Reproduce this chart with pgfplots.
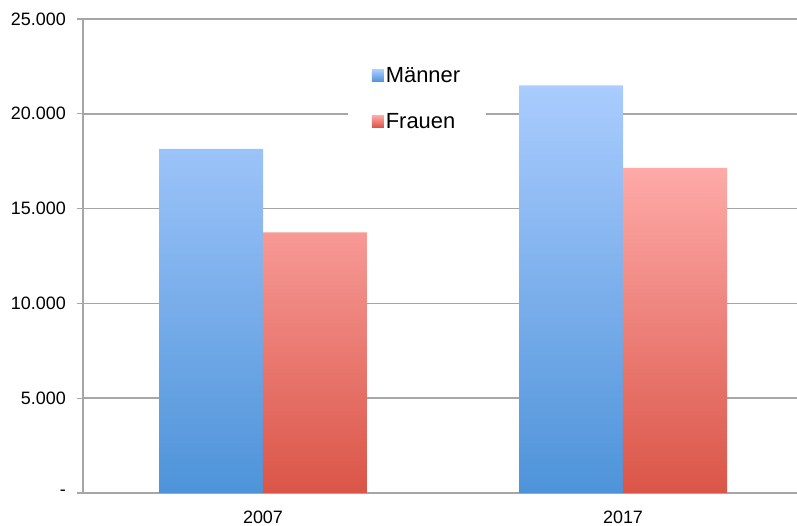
\documentclass[border=0pt]{standalone}
\usepackage{fontspec}
\setmainfont{Liberation Sans}
\usepackage{pgfplots}
\pgfplotsset{compat=1.18}
\definecolor{gridc}{HTML}{A6A6A6}
\definecolor{mtop}{HTML}{AACCFE}
\definecolor{mbot}{HTML}{4E93D9}
\definecolor{ftop}{HTML}{FEAAA8}
\definecolor{fbot}{HTML}{DA5548}
\begin{document}
\begin{tikzpicture}
\begin{axis}[
  scale only axis, width=714bp, height=474bp,
  at={(0,0)}, anchor=south west,
  xmin=-0.5, xmax=1.4833, ymin=0, ymax=25000,
  scaled y ticks=false,
  ybar, bar width=0.2889,
  axis x line*=bottom, axis y line*=left,
  axis line style={-, gridc, line width=1.5bp},
  ytick={0,5000,10000,15000,20000,25000},
  yticklabels={-,5.000,10.000,15.000,20.000,25.000},
  ymajorgrids, grid style={gridc, line width=1.5bp},
  tick align=outside, major tick length=6bp,
  tick style={gridc, line width=1.2bp},
  xtick={0,1}, xticklabels={2007,2017},
  x tick style={draw=none},
  extra x ticks={-0.5,0.5},
  extra x tick labels={},
  extra x tick style={grid=none, tick style={draw=gridc, line width=1.2bp}},
  tick label style={font=\fontsize{18}{22}\selectfont},
  yticklabel style={anchor=east, inner sep=0pt, xshift=-11bp},
  xticklabel style={anchor=north, inner sep=0pt, yshift=-12bp},
  legend style={draw=none, fill=white, at={(0.4678,0.8323)}, anchor=center,
    font=\fontsize{22}{26}\selectfont, row sep=25bp, inner xsep=24bp, inner ysep=6bp},
  legend cell align=left,
  legend image code/.code={\fill[#1] (0bp,-6bp) rectangle (12bp,6bp);},
]
\addplot[draw=none, top color=mtop, bottom color=mbot, bar shift=-0.1444]
  coordinates {(0,18150) (1,21500)};
\addlegendentry{Männer}
\addplot[draw=none, top color=ftop, bottom color=fbot, bar shift=0.1444]
  coordinates {(0,13750) (1,17150)};
\addlegendentry{Frauen}
\end{axis}
\pgfresetboundingbox
\path (-83bp,-33bp) rectangle (714bp,493bp);
\end{tikzpicture}
\end{document}
